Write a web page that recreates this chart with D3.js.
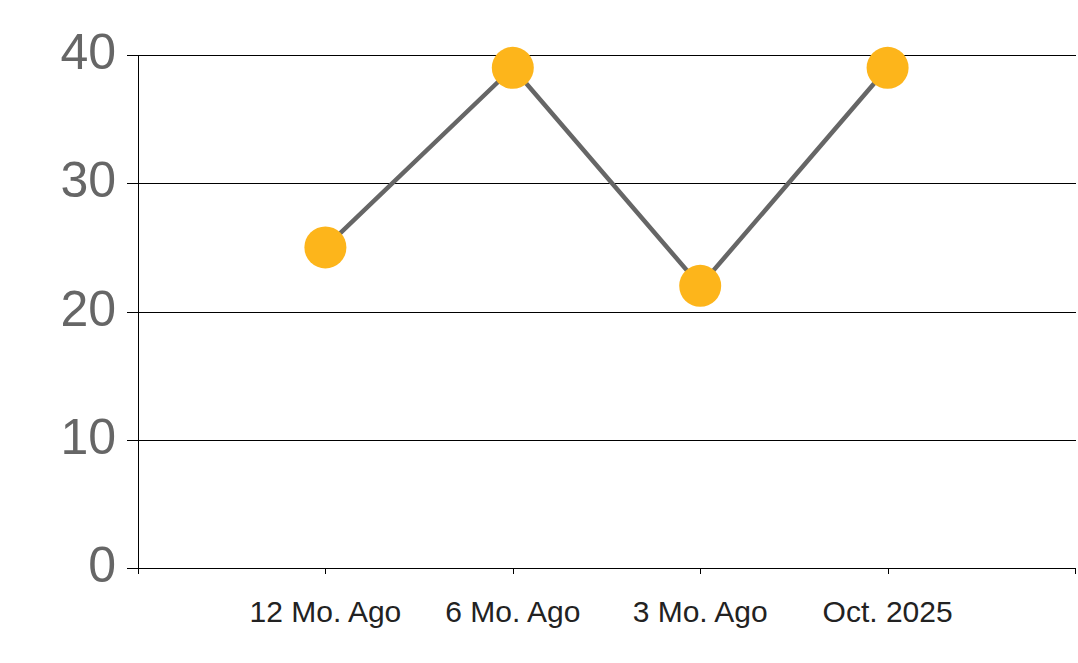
<!DOCTYPE html>
<html><head><meta charset="utf-8">
<script src="https://cdn.jsdelivr.net/npm/d3@7"></script>
<style>body{margin:0;background:#fff;}svg{display:block;}</style>
</head><body>
<svg id="chart" width="1078" height="663"></svg>
<script>
const categories = ["12 Mo. Ago", "6 Mo. Ago", "3 Mo. Ago", "Oct. 2025"];
const values = [25, 39, 22, 39];
const yTicks = [0, 10, 20, 30, 40];

(function () {
const svg = d3.select("#chart");
const mLeft = 138, mRight = 1075, mTop = 55, mBottom = 568;

// slots: 0..5, with categories at 1..4
const x = d3.scaleLinear().domain([0, categories.length + 1]).range([mLeft, mRight]);
const y = d3.scaleLinear().domain([0, 40]).range([mBottom, mTop]);

const axisStyle = sel => sel.attr("stroke", "#000").attr("stroke-width", 1).attr("shape-rendering", "crispEdges");

// grid lines
svg.append("g").selectAll("line").data(yTicks).join("line")
  .attr("x1", mLeft - 11).attr("x2", mRight + 1)
  .attr("y1", d => Math.round(y(d)) + 0.5).attr("y2", d => Math.round(y(d)) + 0.5)
  .call(axisStyle);

// y axis line
svg.append("line").attr("x1", mLeft + 0.5).attr("x2", mLeft + 0.5).attr("y1", mTop).attr("y2", mBottom + 6)
  .call(axisStyle);

// x tick marks
const xTickIdx = d3.range(0, categories.length + 2);
svg.append("g").selectAll("line").data(xTickIdx).join("line")
  .attr("x1", d => Math.round(x(d)) + 0.5).attr("x2", d => Math.round(x(d)) + 0.5)
  .attr("y1", mBottom).attr("y2", mBottom + 6)
  .call(axisStyle);

// y labels
svg.append("g").selectAll("text").data(yTicks).join("text")
  .attr("x", 116).attr("y", d => y(d) + 14)
  .attr("text-anchor", "end")
  .attr("font-family", "Liberation Sans, Arial, sans-serif")
  .attr("font-size", 50).attr("fill", "#666")
  .text(d => d);

// x labels
svg.append("g").selectAll("text").data(categories).join("text")
  .attr("x", (d, i) => x(i + 1)).attr("y", 622)
  .attr("text-anchor", "middle")
  .attr("font-family", "Liberation Sans, Arial, sans-serif")
  .attr("font-size", 30).attr("fill", "#222")
  .text(d => d);

// line
const line = d3.line().x((d, i) => x(i + 1)).y(d => y(d));
svg.append("path").datum(values).attr("d", line)
  .attr("fill", "none").attr("stroke", "#666").attr("stroke-width", 4.5);

// points
svg.append("g").selectAll("circle").data(values).join("circle")
  .attr("cx", (d, i) => x(i + 1)).attr("cy", d => y(d)).attr("r", 21)
  .attr("fill", "#FDB51B");
})();
</script>
</body></html>
